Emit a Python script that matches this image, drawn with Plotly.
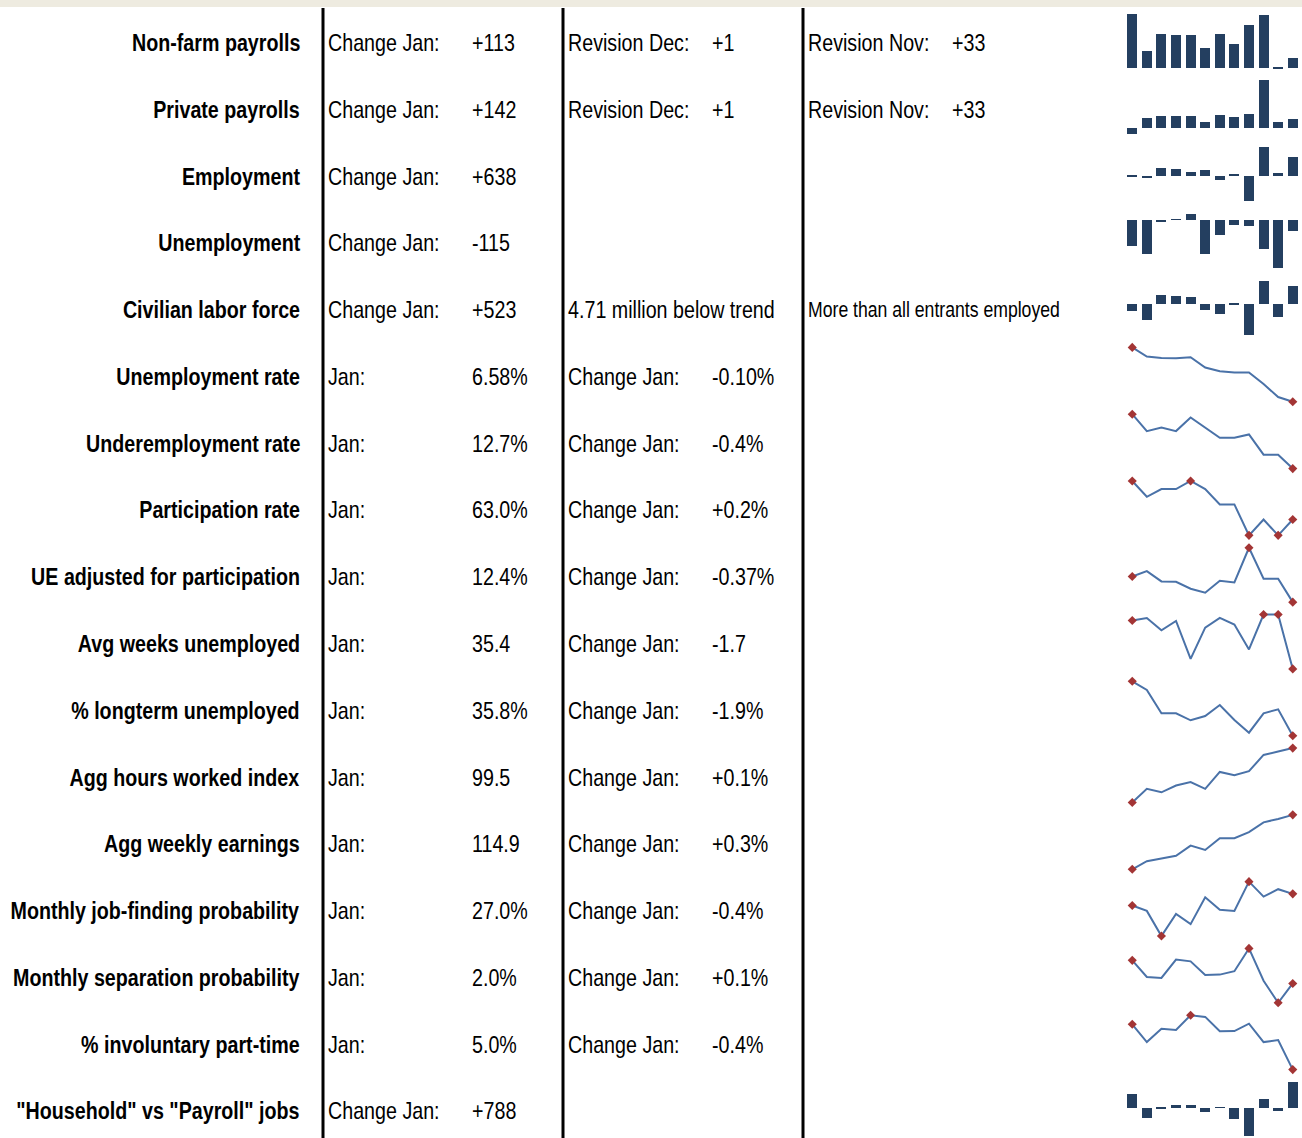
import plotly.graph_objects as go

W, H = 1302, 1138

labels = ["Non-farm payrolls", "Private payrolls", "Employment", "Unemployment",
          "Civilian labor force", "Unemployment rate", "Underemployment rate",
          "Participation rate", "UE adjusted for participation", "Avg weeks unemployed",
          "% longterm unemployed", "Agg hours worked index", "Agg weekly earnings",
          "Monthly job-finding probability", "Monthly separation probability",
          "% involuntary part-time", "\"Household\" vs \"Payroll\" jobs"]

col2_label = ["Change Jan:"] * 5 + ["Jan:"] * 11 + ["Change Jan:"]
col2_value = ["+113", "+142", "+638", "-115", "+523", "6.58%", "12.7%", "63.0%", "12.4%",
              "35.4", "35.8%", "99.5", "114.9", "27.0%", "2.0%", "5.0%", "+788"]
col3_label = ["Revision Dec:", "Revision Dec:", "", "", "4.71 million below trend"] + \
             ["Change Jan:"] * 11 + [""]
col3_value = ["+1", "+1", "", "", "", "-0.10%", "-0.4%", "+0.2%", "-0.37%", "-1.7",
              "-1.9%", "+0.1%", "+0.3%", "-0.4%", "+0.1%", "-0.4%", ""]
col4_label = ["Revision Nov:", "Revision Nov:", "", "", "More than all entrants employed"] + [""] * 12
col4_value = ["+33", "+33"] + [""] * 15

# sparkline series (12 months, relative units)
spark_kind = ["bar"] * 5 + ["line"] * 11 + ["bar"]
spark_data = [
    [53.7, 17.3, 34.0, 32.7, 33.3, 19.7, 33.7, 23.7, 42.7, 52.3, 0.6, 10.3],
    [-6.0, 10.0, 12.3, 12.3, 12.7, 6.7, 13.7, 11.0, 14.3, 48.3, 6.0, 9.3],
    [1.5, -2.0, 8.3, 7.0, 4.3, 6.0, -3.7, 2.3, -25.0, 29.3, 3.7, 19.3],
    [-27.0, -34.3, -2.7, 0.6, 5.7, -34.3, -15.3, -5.3, -6.7, -30.0, -49.3, -11.7],
    [-7.0, -15.3, 9.7, 8.7, 7.3, -5.3, -9.7, 1.0, -31.0, 23.3, -13.0, 18.7],
    [53.4, 44.4, 43.0, 42.7, 43.7, 33.7, 30.0, 28.7, 28.7, 17.4, 4.7, 0.0],
    [53.7, 37.0, 40.4, 37.0, 50.4, 40.4, 30.4, 30.4, 33.7, 13.7, 13.7, 0.0],
    [54.0, 38.3, 46.0, 46.0, 54.0, 46.0, 30.7, 30.7, 0.0, 15.7, 0.0, 15.7],
    [25.7, 31.0, 20.7, 20.4, 13.4, 9.4, 21.4, 19.7, 54.4, 23.4, 23.4, 0.0],
    [48.0, 50.6, 38.3, 47.6, 10.0, 41.0, 50.6, 44.0, 19.3, 54.0, 54.0, 0.0],
    [54.4, 45.7, 22.4, 22.4, 15.4, 19.7, 30.7, 15.7, 3.0, 22.4, 26.4, 0.0],
    [0.0, 13.4, 10.0, 16.7, 20.0, 13.4, 30.0, 26.7, 30.7, 46.7, 50.0, 53.4],
    [0.0, 8.0, 10.7, 13.3, 23.3, 19.0, 30.7, 30.7, 36.7, 46.3, 49.7, 53.7],
    [30.0, 24.7, 0.0, 21.7, 11.7, 38.0, 25.7, 24.7, 53.4, 38.7, 46.0, 41.4],
    [41.7, 25.4, 24.4, 42.4, 40.7, 27.4, 27.7, 31.0, 53.4, 21.7, 0.0, 19.0],
    [45.0, 27.3, 40.6, 39.3, 54.0, 52.3, 38.0, 38.3, 45.6, 27.3, 29.3, 0.0],
    [14.0, -10.0, -0.5, 2.3, 3.0, -4.0, -0.3, -11.7, -29.0, 9.0, -3.0, 25.7],
]
months = list(range(12))

FONT = "Liberation Sans, Arial, Helvetica, sans-serif"
FS = 24
BAR_C = "#243f60"
LINE_C = "#4a72a8"
MARK_C = "#a33535"

ROW0, STEP = 42.5, 66.78
BAND_TOP0, BAND_H = 13.5, 54.4

fig = go.Figure()
annotations = []
shapes = []


def px_x(x):
    return x / W


def px_y(y):
    return 1 - y / H


def add_text(x, y, text, anchor, bold=False, size=FS):
    if not text:
        return
    annotations.append(dict(
        x=px_x(x), y=px_y(y), xref="paper", yref="paper", text=("<b>%s</b>" % text) if bold else text,
        showarrow=False, xanchor=anchor, yanchor="middle", borderpad=0,
        font=dict(family=FONT, size=size, color="#000000")))


for i, lab in enumerate(labels):
    yc = ROW0 + STEP * i
    add_text(300.5, yc, lab, "right", bold=True)
    add_text(327, yc, col2_label[i], "left")
    add_text(471, yc, col2_value[i], "left")
    add_text(567, yc, col3_label[i], "left")
    add_text(711, yc, col3_value[i], "left")
    small = col4_label[i].startswith("More")
    add_text(807, yc, col4_label[i], "left", size=21.5 if small else FS)
    add_text(951, yc, col4_value[i], "left")

# sparklines
PAD = 3
layout_axes = {}
for i, vals in enumerate(spark_data):
    n = i + 1
    top = BAND_TOP0 + STEP * i
    bot = top + BAND_H
    if spark_kind[i] == "bar":
        lo, hi = min(0, min(vals)), max(0, max(vals))
    else:
        lo, hi = min(vals), max(vals)
    scale = (hi - lo) / BAND_H
    dtop = max(0.0, top - PAD)
    dbot = min(float(H), bot + PAD)
    rng = [lo - (dbot - bot) * scale, hi + (top - dtop) * scale]
    dom = [px_y(dbot), px_y(dtop)]
    xa = "x%d" % n
    ya = "y%d" % n
    if spark_kind[i] == "bar":
        fig.add_trace(go.Bar(x=months, y=vals, xaxis=xa, yaxis=ya, width=0.68,
                             marker=dict(color=BAR_C, line=dict(width=0)),
                             showlegend=False, hoverinfo="skip"))
    else:
        fig.add_trace(go.Scatter(x=months, y=vals, xaxis=xa, yaxis=ya, mode="lines",
                                 line=dict(color=LINE_C, width=2), showlegend=False,
                                 hoverinfo="skip"))
        hi_v, lo_v = max(vals), min(vals)
        idx = [k for k, v in enumerate(vals) if v == hi_v or v == lo_v or k == 0 or k == len(vals) - 1]
        fig.add_trace(go.Scatter(x=[months[k] for k in idx], y=[vals[k] for k in idx],
                                 xaxis=xa, yaxis=ya, mode="markers", cliponaxis=False,
                                 marker=dict(color=MARK_C, size=7, symbol="diamond"),
                                 showlegend=False, hoverinfo="skip"))
    layout_axes["xaxis%d" % n] = dict(domain=[1127 / W, 1298 / W], range=[-0.36, 11.36],
                                      visible=False, fixedrange=True, anchor=ya)
    layout_axes["yaxis%d" % n] = dict(domain=dom, range=rng, visible=False,
                                      fixedrange=True, anchor=xa)

# top band and column separators
shapes.append(dict(type="rect", xref="paper", yref="paper", x0=0, x1=1, y0=px_y(7), y1=1,
                   fillcolor="#eeebe0", line=dict(width=0), layer="below"))
for xv in [323, 563, 803]:
    shapes.append(dict(type="line", xref="paper", yref="paper", x0=px_x(xv), x1=px_x(xv),
                       y0=px_y(8), y1=0, line=dict(color="#000000", width=3)))

fig.update_layout(width=W, height=H, margin=dict(l=0, r=0, t=0, b=0),
                  paper_bgcolor="white", plot_bgcolor="white",
                  annotations=annotations, shapes=shapes, bargap=0, **layout_axes)

# remove page margin and narrow the text horizontally (Arial Narrow look)
post_js = """
document.body.style.margin = '0px';
var gd = document.getElementById('{plot_id}');
var SX = 0.82;
var anns = gd.layout.annotations || [];
gd.querySelectorAll('g.annotation').forEach(function(g){
  var idx = +g.getAttribute('data-index');
  var t = g.querySelector('text.annotation-text');
  if (!t) return;
  var bb = t.getBBox();
  var a = anns[idx] ? anns[idx].xanchor : 'left';
  var ax = (a === 'right') ? bb.x + bb.width : bb.x;
  t.setAttribute('transform', 'translate(' + ax + ',0) scale(' + SX + ',1) translate(' + (-ax) + ',0)');
});
"""

fig.write_html("out.html", post_script=post_js, config={"displayModeBar": False})
